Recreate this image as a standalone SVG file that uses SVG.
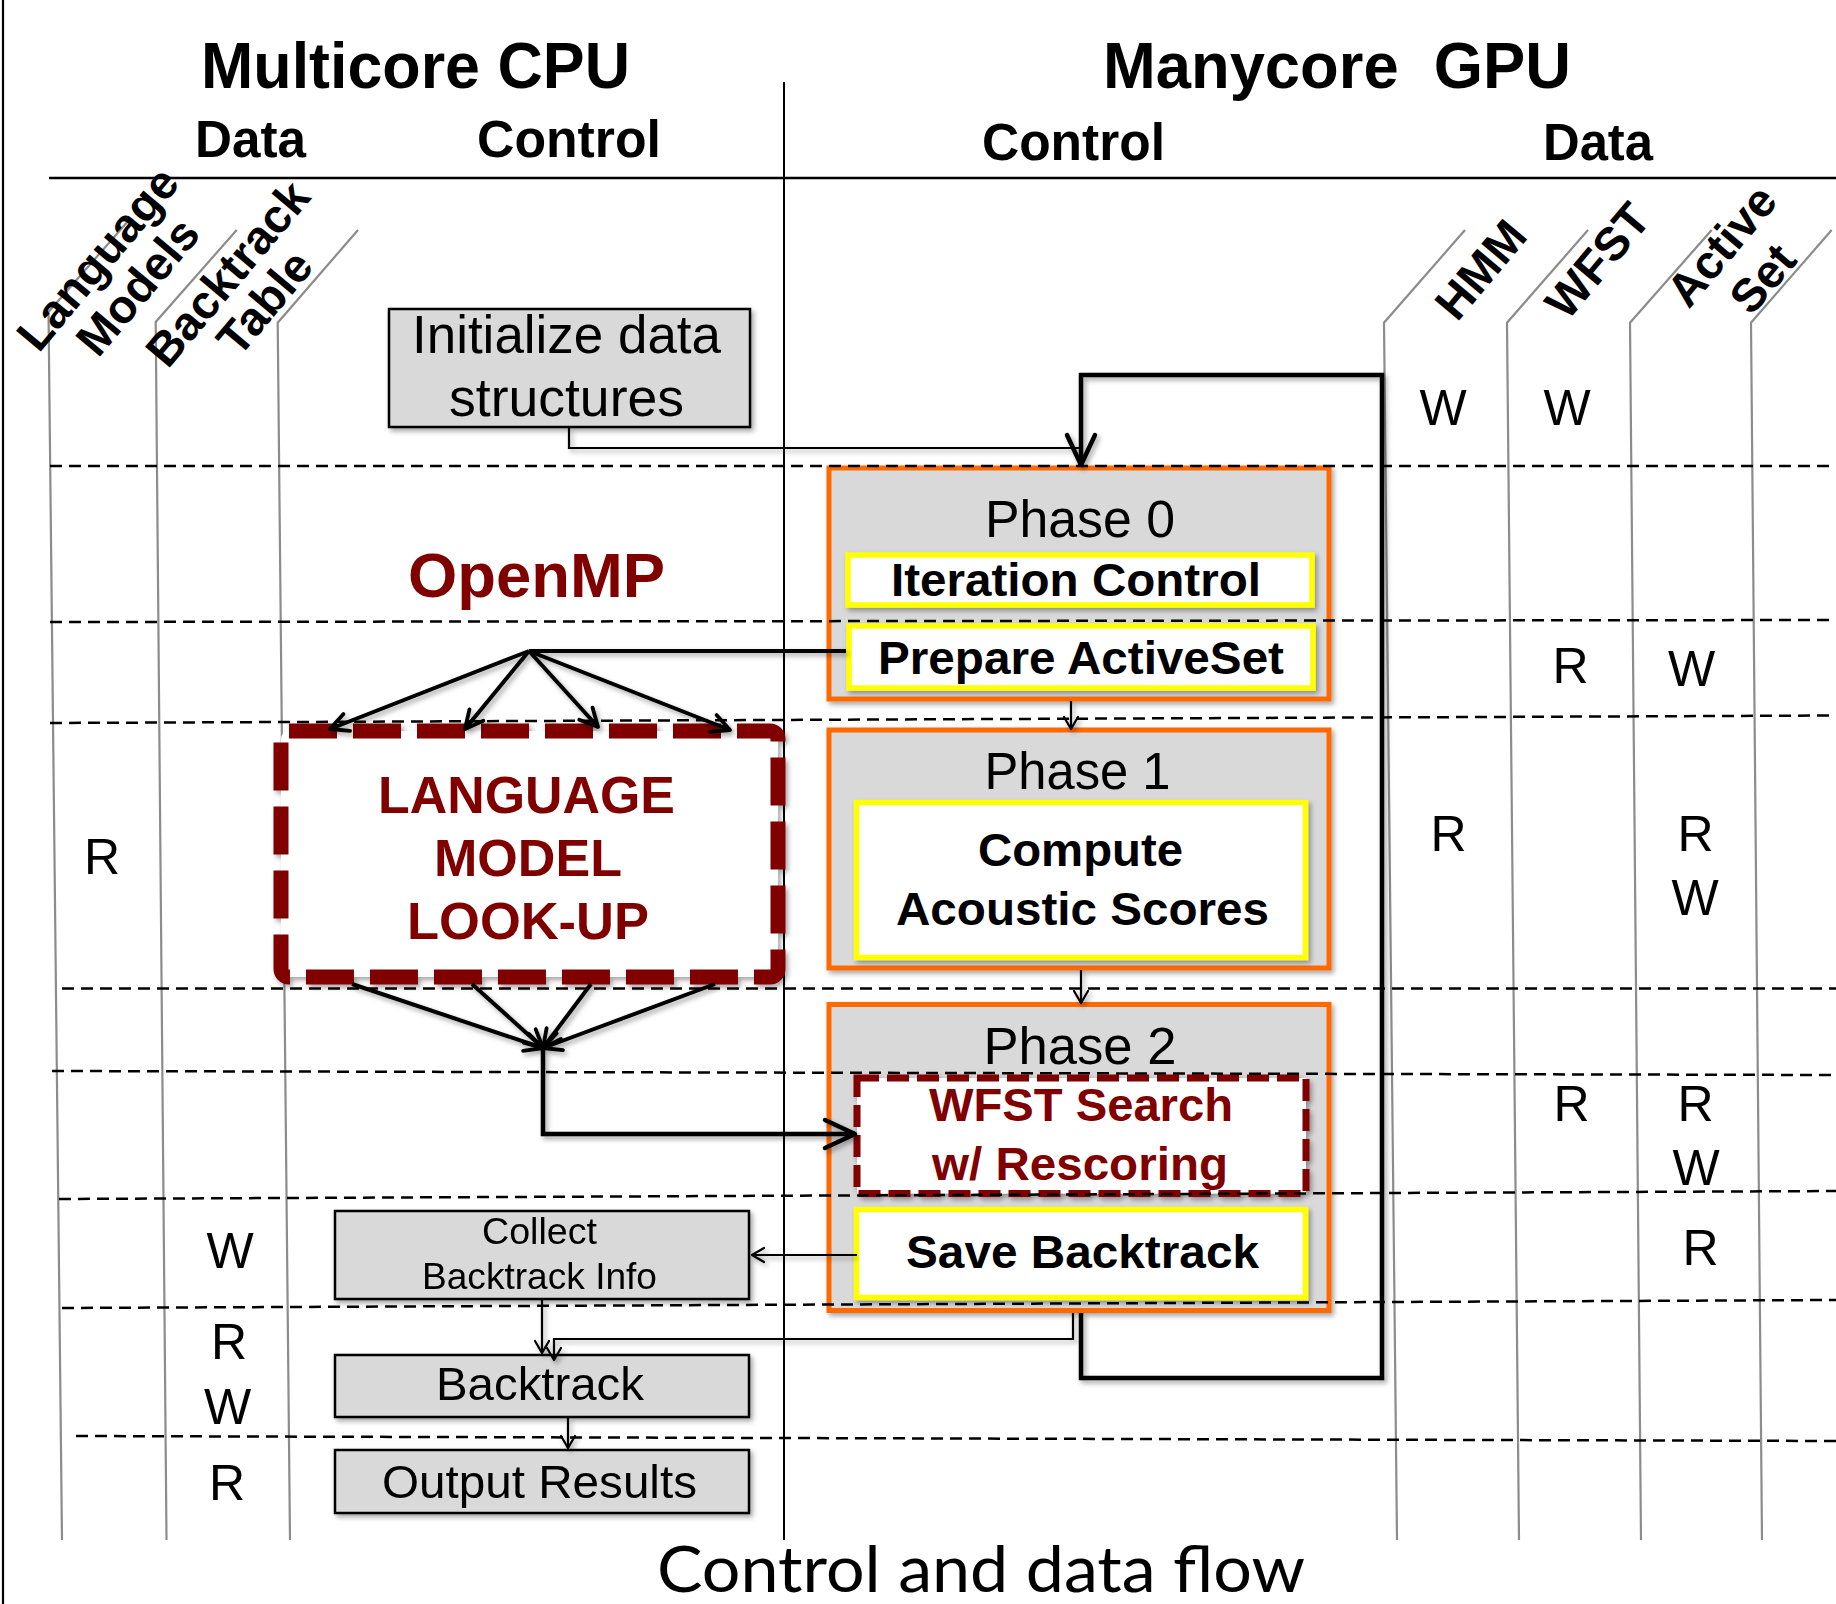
<svg xmlns="http://www.w3.org/2000/svg" width="1836" height="1604" viewBox="0 0 1836 1604">
<style>
  text{font-family:"Liberation Sans",Arial,Helvetica,sans-serif;fill:#000;text-anchor:middle}
  .title{font-size:64px;font-weight:bold}
  .sub{font-size:51px;font-weight:bold}
  .col{font-size:47px;font-weight:bold}
  .rw{font-size:50px}
  .lbl{font-size:47px;font-weight:bold}
  .ph{font-size:51px}
  .reg{font-size:53px}
  .small{font-size:37px}
  .red{fill:#800000}
  .gbox{fill:#d9d9d9;stroke:#000;stroke-width:2.5}
  .phase{fill:#d9d9d9;stroke:#ff6a00;stroke-width:5}
  .ybox{fill:#fff;stroke:#ffff00;stroke-width:5.5}
  .grid{stroke:#8c8c8c;stroke-width:2.2;fill:none}
  .dash{stroke:#000;stroke-width:2.5;stroke-dasharray:12 7;fill:none}
  .thick{stroke:#000;stroke-width:4.5;fill:none;stroke-linejoin:miter}
  .mid{stroke:#000;stroke-width:4;fill:none}
  .thin{stroke:#000;stroke-width:2.2;fill:none}
  .frame{stroke:#000;fill:none}
</style>
<defs>
  <filter id="sh" filterUnits="userSpaceOnUse" x="0" y="0" width="1836" height="1604">
    <feDropShadow dx="2.5" dy="3" stdDeviation="2.5" flood-color="#000" flood-opacity="0.35"/>
  </filter>
  <marker id="ah-lg" markerUnits="userSpaceOnUse" orient="auto" refX="0" refY="0" markerWidth="1" markerHeight="1" style="overflow:visible">
    <path d="M-30,-14 L0,0 L-30,14" fill="none" stroke="#000" stroke-width="4.5" stroke-linejoin="round" stroke-linecap="round"/>
  </marker>
  <marker id="ah-md" markerUnits="userSpaceOnUse" orient="auto" refX="0" refY="0" markerWidth="1" markerHeight="1" style="overflow:visible">
    <path d="M-18,-9 L0,0 L-18,9" fill="none" stroke="#000" stroke-width="3.8" stroke-linejoin="round" stroke-linecap="round"/>
  </marker>
  <marker id="ah-sm" markerUnits="userSpaceOnUse" orient="auto" refX="0" refY="0" markerWidth="1" markerHeight="1" style="overflow:visible">
    <path d="M-12,-7 L0,0 L-12,7" fill="none" stroke="#000" stroke-width="2.2" stroke-linejoin="round" stroke-linecap="round"/>
  </marker>
</defs>

<rect x="0" y="0" width="1836" height="1604" fill="#fff"/>

<!-- frame: outer left edge, header rule, CPU/GPU divider -->
<g id="frame">
  <line class="frame" x1="3" y1="0" x2="3" y2="1604" stroke-width="2.2"/>
  <line class="frame" x1="49" y1="178" x2="1836" y2="178" stroke-width="2.6"/>
  <line class="frame" x1="784" y1="82" x2="784" y2="1540" stroke-width="2"/>
</g>

<!-- data column rules with slanted heads -->
<g id="data-columns">
  <path class="grid" d="M129,220 L48.5,312 L62,1540"/>
  <path class="grid" d="M236.7,230 L155.7,322 L166.5,1540"/>
  <path class="grid" d="M358,230 L277.7,322.7 L290,1540"/>
  <path class="grid" d="M1465,230 L1384,322.7 L1397,1540"/>
  <path class="grid" d="M1588,230 L1507,322.7 L1519,1540"/>
  <path class="grid" d="M1711.7,230 L1630,322.7 L1641,1540"/>
  <path class="grid" d="M1831.7,230 L1751,322.7 L1762,1540"/>
</g>

<!-- headings -->
<g id="headings">
  <text class="title" x="415.5" y="88" textLength="429" lengthAdjust="spacingAndGlyphs">Multicore CPU</text>
  <text class="title" x="1337" y="88" textLength="468" lengthAdjust="spacingAndGlyphs" xml:space="preserve">Manycore  GPU</text>
  <text class="sub" x="250.5" y="157" textLength="111" lengthAdjust="spacingAndGlyphs">Data</text>
  <text class="sub" x="569" y="157" textLength="184" lengthAdjust="spacingAndGlyphs">Control</text>
  <text class="sub" x="1073.5" y="160" textLength="183" lengthAdjust="spacingAndGlyphs">Control</text>
  <text class="sub" x="1598" y="160" textLength="110" lengthAdjust="spacingAndGlyphs">Data</text>
</g>

<!-- slanted column labels -->
<g id="column-labels">
  <text class="col" transform="translate(110,269) rotate(-50)">Language</text>
  <text class="col" transform="translate(150,297) rotate(-50)">Models</text>
  <text class="col" transform="translate(240,284) rotate(-50)">Backtrack</text>
  <text class="col" transform="translate(277,313) rotate(-50)">Table</text>
  <text class="col" transform="translate(1493,280) rotate(-50)">HMM</text>
  <text class="col" transform="translate(1610,271) rotate(-50)">WFST</text>
  <text class="col" transform="translate(1734,256) rotate(-50)">Active</text>
  <text class="col" transform="translate(1775,289) rotate(-50)">Set</text>
</g>

<!-- CPU side nodes -->
<g id="init" filter="url(#sh)">
  <rect class="gbox" x="389" y="309" width="361" height="118"/>
  <text class="reg" x="566.5" y="353" textLength="309" lengthAdjust="spacingAndGlyphs">Initialize data</text>
  <text class="reg" x="566.5" y="416" textLength="235" lengthAdjust="spacingAndGlyphs">structures</text>
</g>

<g id="openmp">
  <text class="red" x="536.5" y="597" font-size="63" font-weight="bold" textLength="257" lengthAdjust="spacingAndGlyphs">OpenMP</text>
</g>

<g id="lm-lookup">
  <rect x="281" y="731" width="497" height="246" rx="8" fill="#fff" stroke="#800000" stroke-width="15" stroke-dasharray="48 16" filter="url(#sh)"/>
  <text class="red" x="526.5" y="813" font-size="52" font-weight="bold" textLength="297" lengthAdjust="spacingAndGlyphs">LANGUAGE</text>
  <text class="red" x="528" y="876" font-size="52" font-weight="bold" textLength="188" lengthAdjust="spacingAndGlyphs">MODEL</text>
  <text class="red" x="528" y="939" font-size="52" font-weight="bold" textLength="242" lengthAdjust="spacingAndGlyphs">LOOK-UP</text>
</g>

<g id="collect" filter="url(#sh)">
  <rect class="gbox" x="335" y="1211" width="414" height="88"/>
  <text class="small" x="539.5" y="1244" textLength="115" lengthAdjust="spacingAndGlyphs">Collect</text>
  <text class="small" x="539.5" y="1289" textLength="235" lengthAdjust="spacingAndGlyphs">Backtrack Info</text>
</g>

<g id="backtrack" filter="url(#sh)">
  <rect class="gbox" x="335" y="1355" width="414" height="62"/>
  <text class="lbl" x="540" y="1400" style="font-weight:normal" textLength="208" lengthAdjust="spacingAndGlyphs">Backtrack</text>
</g>

<g id="output" filter="url(#sh)">
  <rect class="gbox" x="335" y="1450" width="414" height="63"/>
  <text class="lbl" x="539.5" y="1497.5" style="font-weight:normal" textLength="315" lengthAdjust="spacingAndGlyphs">Output Results</text>
</g>

<!-- GPU side nodes -->
<g id="phase0">
  <rect class="phase" x="829" y="468" width="500" height="231" filter="url(#sh)"/>
  <text class="ph" x="1080" y="537" textLength="190" lengthAdjust="spacingAndGlyphs">Phase 0</text>
  <g id="iteration-control">
    <rect class="ybox" x="848" y="555" width="464" height="50" filter="url(#sh)"/>
    <text class="lbl" x="1076" y="596" textLength="370" lengthAdjust="spacingAndGlyphs">Iteration Control</text>
  </g>
  <g id="prepare-activeset">
    <rect class="ybox" x="849" y="626" width="464" height="62" filter="url(#sh)"/>
    <text class="lbl" x="1081" y="674" textLength="406" lengthAdjust="spacingAndGlyphs">Prepare ActiveSet</text>
  </g>
</g>

<g id="phase1">
  <rect class="phase" x="829" y="730" width="500" height="238" filter="url(#sh)"/>
  <text class="ph" x="1077.5" y="789" textLength="186" lengthAdjust="spacingAndGlyphs">Phase 1</text>
  <g id="acoustic-scores">
    <rect class="ybox" x="856.5" y="802.5" width="449" height="155" filter="url(#sh)"/>
    <text class="lbl" x="1080.5" y="865.5" textLength="205" lengthAdjust="spacingAndGlyphs">Compute</text>
    <text class="lbl" x="1082.5" y="925" textLength="373" lengthAdjust="spacingAndGlyphs">Acoustic Scores</text>
  </g>
</g>

<g id="phase2">
  <rect class="phase" x="829" y="1004.5" width="500" height="306" filter="url(#sh)"/>
  <text class="ph" x="1080" y="1064" textLength="193" lengthAdjust="spacingAndGlyphs">Phase 2</text>
  <g id="wfst-search">
    <rect x="857" y="1078" width="449" height="115.5" fill="#fff" stroke="#800000" stroke-width="7" stroke-dasharray="22 8" filter="url(#sh)"/>
    <text class="lbl red" x="1081" y="1121" textLength="304" lengthAdjust="spacingAndGlyphs">WFST Search</text>
    <text class="lbl red" x="1080" y="1179.5" textLength="296" lengthAdjust="spacingAndGlyphs">w/ Rescoring</text>
  </g>
  <g id="save-backtrack">
    <rect class="ybox" x="856.5" y="1209.5" width="449" height="88" filter="url(#sh)"/>
    <text class="lbl" x="1082.5" y="1268" textLength="353" lengthAdjust="spacingAndGlyphs">Save Backtrack</text>
  </g>
</g>

<!-- time-step separators -->
<g id="separators">
  <line class="dash" x1="50" y1="466" x2="1836" y2="466"/>
  <line class="dash" x1="50" y1="622" x2="1836" y2="620"/>
  <line class="dash" x1="50" y1="723" x2="1836" y2="715.5"/>
  <line class="dash" x1="62" y1="988.5" x2="1836" y2="988.5"/>
  <line class="dash" x1="52" y1="1071" x2="1836" y2="1075"/>
  <line class="dash" x1="59" y1="1199" x2="1836" y2="1191"/>
  <line class="dash" x1="62" y1="1308" x2="1836" y2="1300"/>
  <line class="dash" x1="76" y1="1436" x2="1836" y2="1441"/>
</g>

<!-- read / write marks per data column -->
<g id="access-marks">
  <text class="rw" x="102" y="874">R</text>
  <text class="rw" x="230" y="1268">W</text>
  <text class="rw" x="229" y="1359">R</text>
  <text class="rw" x="227.5" y="1424">W</text>
  <text class="rw" x="227" y="1500">R</text>
  <text class="rw" x="1443" y="425">W</text>
  <text class="rw" x="1567" y="425">W</text>
  <text class="rw" x="1570.5" y="683">R</text>
  <text class="rw" x="1691.5" y="686">W</text>
  <text class="rw" x="1448.5" y="851">R</text>
  <text class="rw" x="1695.5" y="851">R</text>
  <text class="rw" x="1695" y="914.5">W</text>
  <text class="rw" x="1571.5" y="1121">R</text>
  <text class="rw" x="1695.5" y="1121">R</text>
  <text class="rw" x="1696" y="1185">W</text>
  <text class="rw" x="1700.5" y="1265">R</text>
</g>

<!-- control flow -->
<g id="connectors" filter="url(#sh)">
  <path class="thin" d="M569,428 V448 H1081"/>
  <path class="thick" d="M1081,1313 V1378 H1382 V375 H1081 V465" marker-end="url(#ah-lg)"/>
  <path class="thin" d="M1071,701 V729" marker-end="url(#ah-sm)"/>
  <path class="thin" d="M1081,970 V1003" marker-end="url(#ah-sm)"/>
  <path class="mid" d="M846,651 H529"/>
  <path class="mid" d="M529,651 L330,729" marker-end="url(#ah-md)"/>
  <path class="mid" d="M529,651 L465,729" marker-end="url(#ah-md)"/>
  <path class="mid" d="M529,651 L598,727" marker-end="url(#ah-md)"/>
  <path class="mid" d="M529,651 L730,730" marker-end="url(#ah-md)"/>
  <path class="mid" d="M352,984 L543,1048" marker-end="url(#ah-md)"/>
  <path class="mid" d="M472,984 L543,1048" marker-end="url(#ah-md)"/>
  <path class="mid" d="M591,984 L543,1048" marker-end="url(#ah-md)"/>
  <path class="mid" d="M715,984 L543,1048" marker-end="url(#ah-md)"/>
  <path class="thick" d="M543,1048 V1134 H855" marker-end="url(#ah-lg)"/>
  <path class="thin" d="M857,1255 H752" marker-end="url(#ah-sm)"/>
  <path class="thin" d="M542,1300 V1353" marker-end="url(#ah-sm)"/>
  <path class="thin" d="M1073,1313 V1339 H554 V1360" marker-end="url(#ah-sm)"/>
  <path class="thin" d="M568,1418 V1448" marker-end="url(#ah-sm)"/>
</g>

<g id="caption">
  <text x="981" y="1592" style="font-family:Lato,'Open Sans',sans-serif;font-size:63px" textLength="648" lengthAdjust="spacingAndGlyphs">Control and data flow</text>
</g>
</svg>
